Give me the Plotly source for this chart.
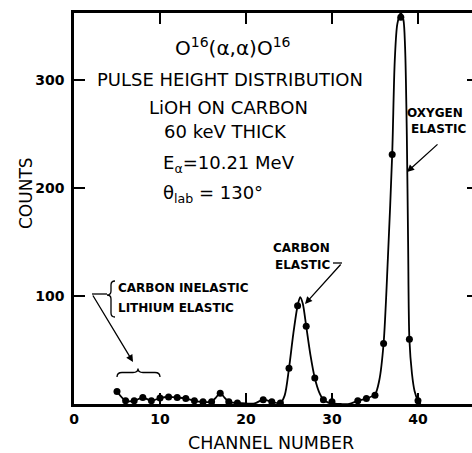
import plotly.graph_objects as go

# ---- data ----
channels = [5, 6, 7, 8, 9, 10, 11, 12, 13, 14, 15, 16, 17, 18, 19, 22, 23, 24,
            25, 26, 27, 28, 29, 30, 33, 34, 35, 36, 37, 38, 39, 40]
counts = [11.5, 3, 3, 6, 3, 5.5, 6.5, 6, 5, 3, 2, 2, 10, 2, 1, 4, 2, 1,
          33, 91, 72, 24, 4, 2, 3, 5, 8, 56, 231, 358, 60, 3]

# hand-drawn fit curve
curve_channel = [5, 6, 7, 8, 9, 10, 11, 12, 13, 14, 15, 16, 16.5, 17, 17.5, 18, 19, 20, 21,
                 22, 23, 24, 24.5, 25, 25.5, 26, 26.3, 26.6, 27, 27.5, 28, 28.5, 29, 29.5,
                 30, 31, 32, 33, 34, 35, 35.5, 36, 36.5, 37, 37.3, 37.6, 38, 38.3, 38.5,
                 38.7, 38.85, 39, 39.3, 39.6, 40, 40.3]
curve_counts = [11.5, 3, 3, 6, 3, 5.5, 6.5, 6, 5, 3, 2, 2, 6, 10, 6, 2, 1, 0.5, 0.5,
                4, 2, 1, 8, 33, 65, 91, 99, 93, 72, 45, 24, 11, 4, 1.5,
                0.5, 0, 0, 3, 5, 9, 22, 56, 135, 231, 318, 352, 362, 356, 330,
                250, 150, 60, 28, 12, 3, 0]

x_ticks = [0, 10, 20, 30, 40]
y_ticks = [100, 200, 300]
x_range = [0, 46.28]
y_range = [0, 362]

# ---- layout geometry (pixels) ----
W, H = 472, 453
L, T, R, B = 74, 13, 472, 404


def P(x, y):
    return (x - L) / (R - L), (B - y) / (B - T)


def path(points):
    s = ""
    for cmd, pts in points:
        s += cmd + " " + " ".join("%.5f,%.5f" % P(x, y) for x, y in pts) + " "
    return s.strip()


FONT = "DejaVu Sans"
BFONT = "DejaVu Sans"

fig = go.Figure()
fig.add_trace(go.Scatter(x=curve_channel, y=curve_counts, mode="lines",
                         line=dict(color="black", width=1.8, shape="spline", smoothing=0.8),
                         hoverinfo="skip", showlegend=False))
fig.add_trace(go.Scatter(x=channels, y=counts, mode="markers",
                         marker=dict(color="black", size=7),
                         showlegend=False))
fig.add_trace(go.Scatter(x=channels, y=counts, mode="markers", yaxis="y2",
                         marker=dict(color="rgba(0,0,0,0)", size=1),
                         hoverinfo="skip", showlegend=False))

ann = []


def text(t, x, y, size, xanchor="center", bold=False, angle=0):
    xp, yp = P(x, y)
    ann.append(dict(text=("<b>%s</b>" % t) if bold else t, x=xp, y=yp, xref="paper", yref="paper",
                    showarrow=False, xanchor=xanchor, yanchor="middle", textangle=angle,
                    font=dict(family=FONT, size=size, color="black")))


def arrow(tip, tail):
    xp, yp = P(*tip)
    ann.append(dict(text="", x=xp, y=yp, xref="paper", yref="paper", showarrow=True,
                    ax=tail[0] - tip[0], ay=tail[1] - tip[1], axref="pixel", ayref="pixel",
                    arrowhead=2, arrowsize=1.1, arrowwidth=1.3, arrowcolor="black"))


text("O<sup>16</sup>(α,α)O<sup>16</sup>", 233, 47, 20)
text("PULSE HEIGHT DISTRIBUTION", 230, 79, 18)
text("LiOH ON CARBON", 228, 108, 18)
text("60 keV THICK", 225, 131, 18)
text("E<sub>α</sub>=10.21 MeV", 161, 164, 18, xanchor="left")
text("θ<sub>lab</sub> = 130°", 161, 194, 18, xanchor="left")

text("CARBON INELASTIC", 116, 288, 12, xanchor="left", bold=True)
text("LITHIUM ELASTIC", 116, 308, 12, xanchor="left", bold=True)
text("CARBON", 332, 248, 12, xanchor="right", bold=True)
text("ELASTIC", 332, 265, 12, xanchor="right", bold=True)
text("OXYGEN", 435, 113, 12, bold=True)
text("ELASTIC", 438, 129, 12, bold=True)

text("COUNTS", 26, 193, 17, angle=-90)
text("CHANNEL NUMBER", 271, 443, 17.5)

arrow((407, 172), (439, 143))
arrow((305, 304), (342, 263))
arrow((133, 362), (92, 294))

shapes = []
ln = dict(color="black", width=1.3)
shapes.append(dict(type="path", xref="paper", yref="paper", line=ln,
                   path=path([("M", [(333, 263)]), ("L", [(342, 263)])])))
shapes.append(dict(type="path", xref="paper", yref="paper", line=ln,
                   path=path([("M", [(92, 294)]), ("L", [(107, 294)])])))
# left brace
shapes.append(dict(type="path", xref="paper", yref="paper", line=ln,
                   path=path([("M", [(115, 281)]), ("Q", [(111, 281), (111, 285)]),
                              ("L", [(111, 291)]), ("Q", [(111, 295), (107, 295)]),
                              ("Q", [(111, 295), (111, 299)]), ("L", [(111, 313)]),
                              ("Q", [(111, 317), (115, 317)])])))
# over-brace
shapes.append(dict(type="path", xref="paper", yref="paper", line=ln,
                   path=path([("M", [(117, 377)]), ("Q", [(117, 372.5), (122, 372.5)]),
                              ("L", [(133, 372.5)]), ("Q", [(138, 372.5), (138, 368.5)]),
                              ("Q", [(138, 372.5), (143, 372.5)]), ("L", [(155, 372.5)]),
                              ("Q", [(160, 372.5), (160, 377)])])))

fig.update_layout(
    width=W, height=H,
    margin=dict(l=L, r=W - R, t=T, b=H - B, pad=0),
    paper_bgcolor="white", plot_bgcolor="white",
    annotations=ann, shapes=shapes,
    xaxis=dict(range=x_range, tickvals=x_ticks, ticktext=[str(v) for v in x_ticks],
               ticks="inside", ticklen=11, tickwidth=2, tickcolor="black",
               showline=True, linewidth=2.5, linecolor="black", mirror="ticks",
               showgrid=False, zeroline=False,
               tickfont=dict(family=BFONT, size=14, color="black", weight="bold")),
    yaxis=dict(range=y_range, tickvals=y_ticks, ticks="inside", ticklen=11, tickwidth=2,
               tickcolor="black", showline=True, linewidth=2.5, linecolor="black",
               showgrid=False, zeroline=False, ticklabelstandoff=4,
               tickfont=dict(family=BFONT, size=14, color="black", weight="bold")),
    yaxis2=dict(range=y_range, tickvals=y_ticks, overlaying="y", side="right",
                ticks="inside", ticklen=5, tickwidth=2, tickcolor="black",
                showticklabels=False, showline=False, showgrid=False, zeroline=False),
)

fig.write_html("out.html")
